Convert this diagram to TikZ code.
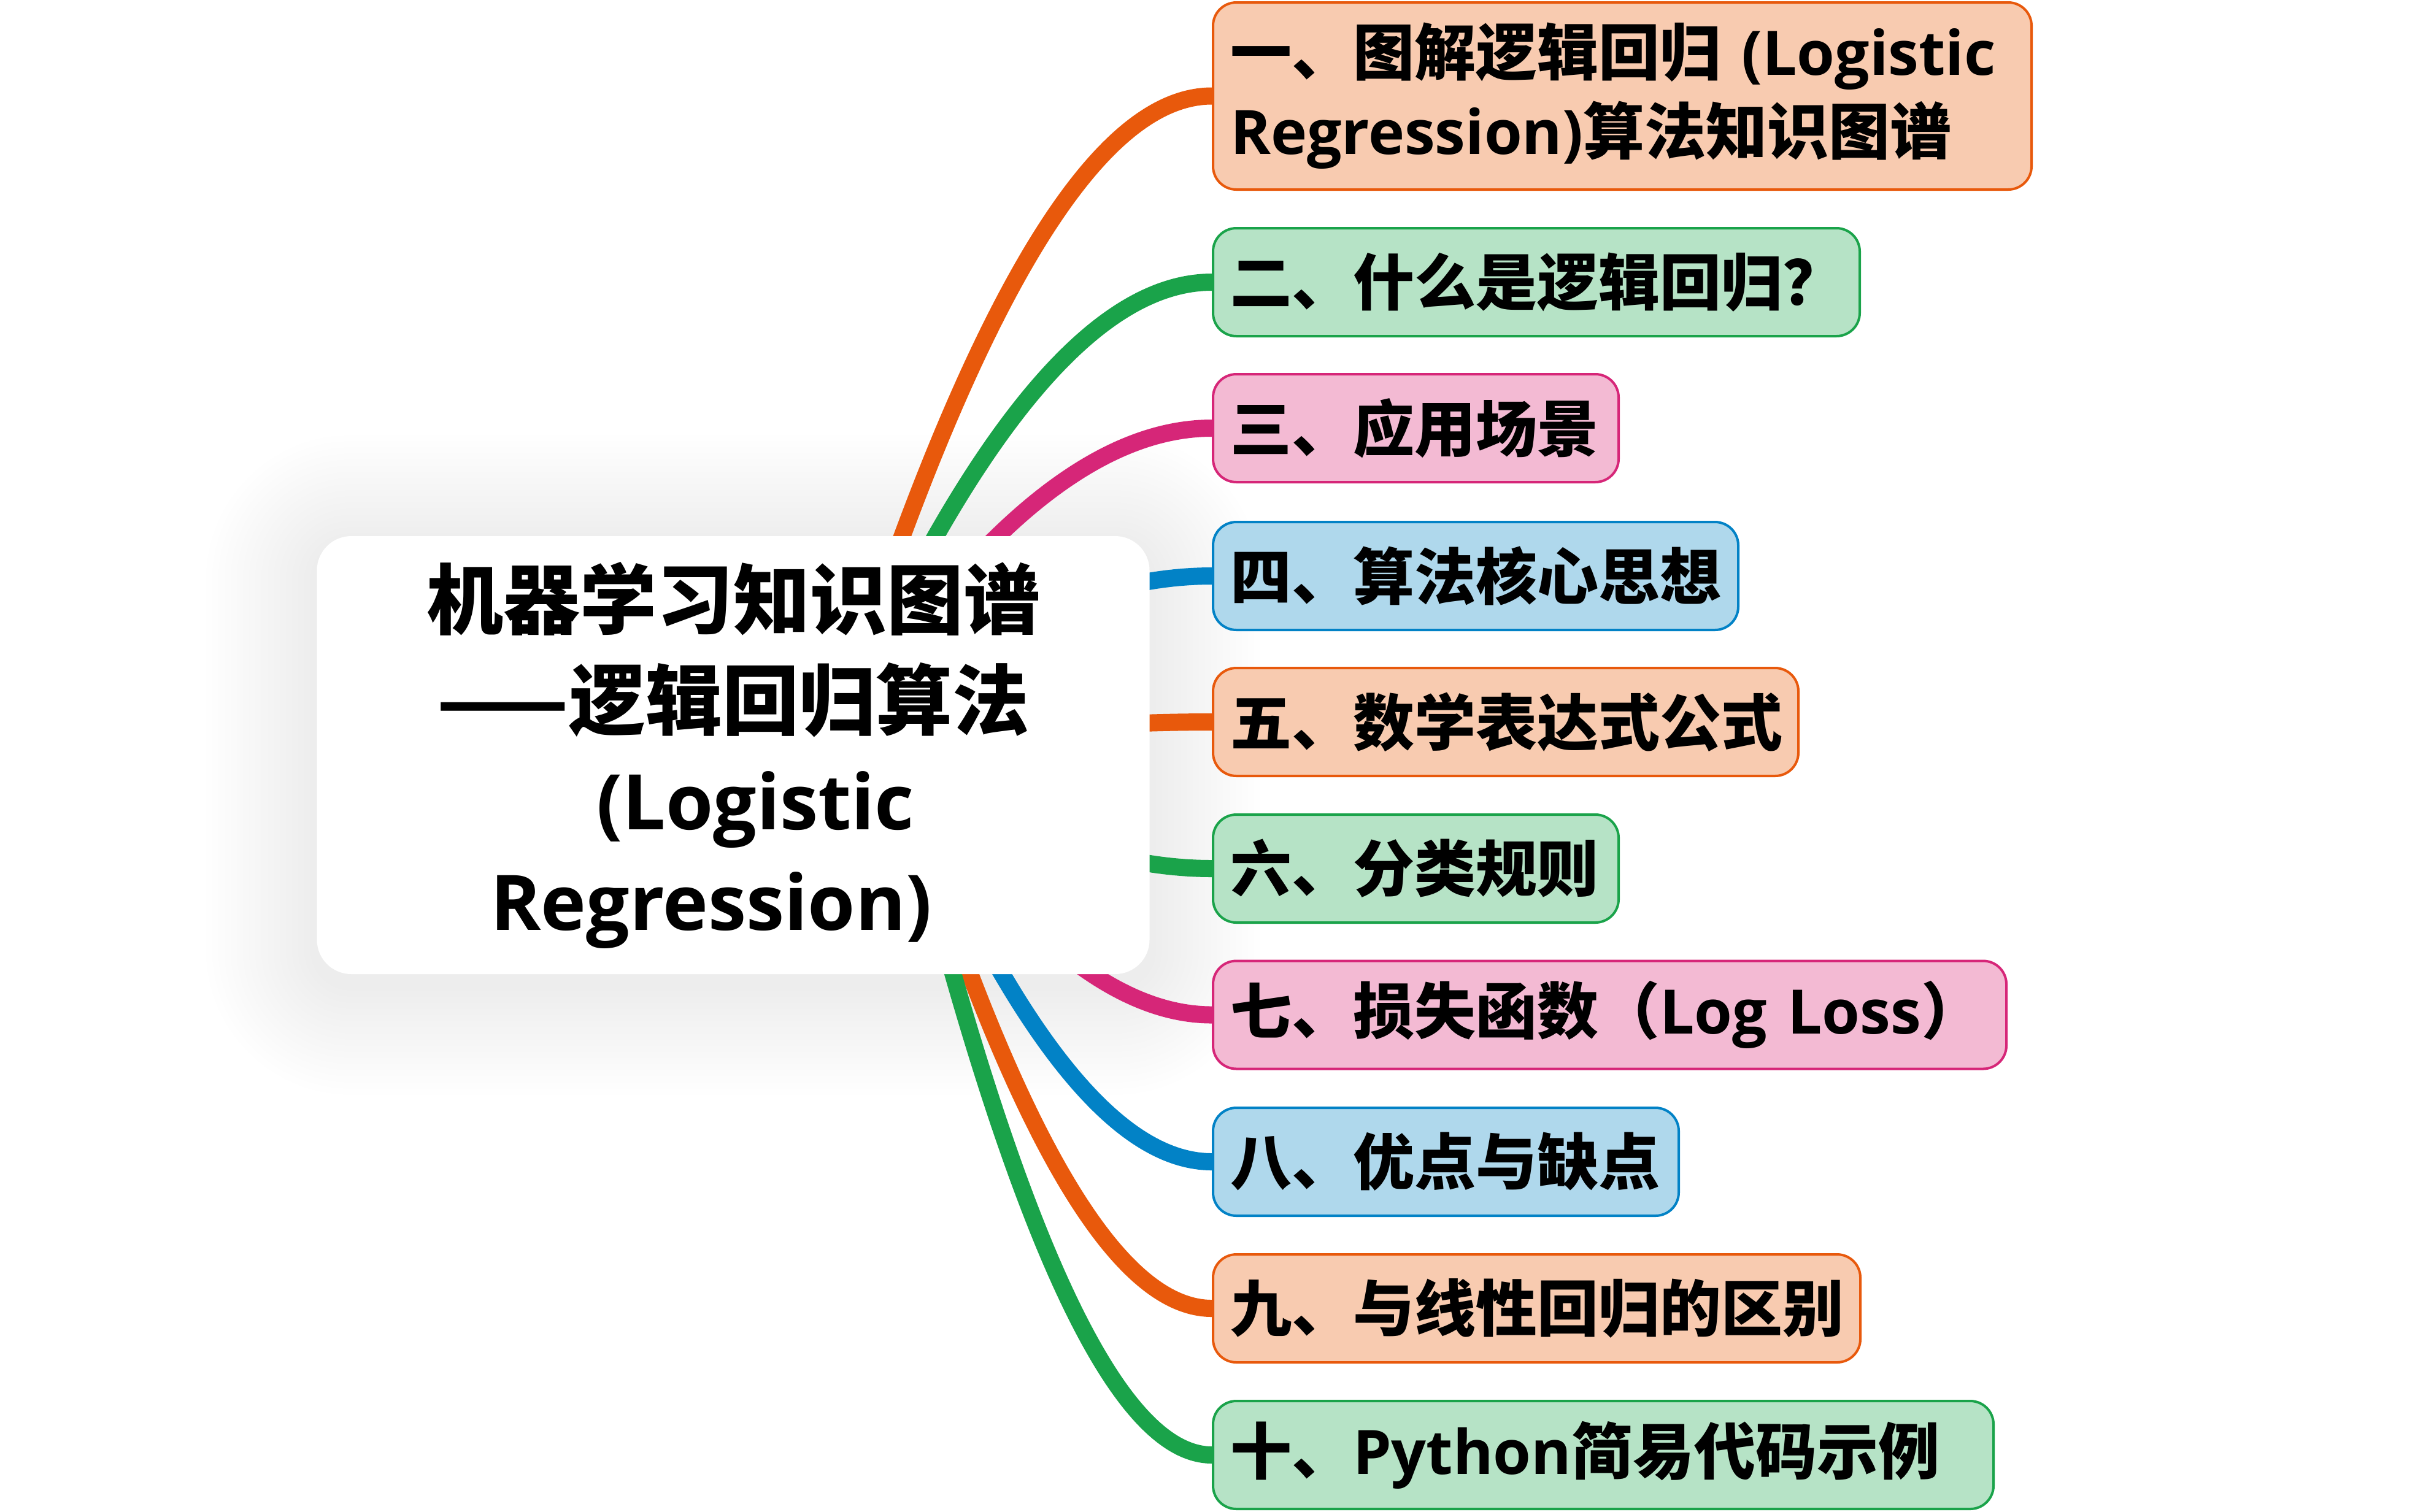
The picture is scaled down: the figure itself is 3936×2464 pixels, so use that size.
\documentclass[tikz,border=0pt]{standalone}
\usepackage{fontspec}
\newfontfamily\zh{Noto Sans CJK SC}
\newfontfamily\en{Open Sans}
\usetikzlibrary{calc}
\definecolor{cOr}{HTML}{E8590C}
\definecolor{cOrF}{HTML}{F8CBB0}
\definecolor{cGr}{HTML}{1AA34A}
\definecolor{cGrF}{HTML}{B6E3C6}
\definecolor{cPk}{HTML}{D62678}
\definecolor{cPkF}{HTML}{F3BAD3}
\definecolor{cBl}{HTML}{0282C6}
\definecolor{cBlF}{HTML}{AFD8EC}
\pgfdeclarelayer{shadowlayer}
\pgfdeclarelayer{linelayer}
\pgfsetlayers{shadowlayer,linelayer,main}
\tikzset{
  rootbox/.style={rectangle, rounded corners=14pt, fill=white, minimum width=339.25pt, minimum height=178.5pt, align=center, inner sep=0pt, font=\bfseries\fontsize{31.25pt}{41pt}\selectfont},
  topic/.style 2 args={rectangle, rounded corners=9.5pt, draw=#1, fill=#2, line width=1pt, anchor=west, inner xsep=7pt, inner ysep=0pt, minimum height=44pt, align=left, font=\bfseries\fontsize{25pt}{32.25pt}\selectfont},
  conn/.style={line width=7pt},
  softshade/.style={fill=black, opacity=0.003},
}
\newcommand\conn[4]{%
  \draw[conn, draw=#1] (#2) .. controls ($(#2)!0.6667!(#3,0 |- #4.west)$) and ($(#4.west)!0.6667!(#3,0 |- #4.west)$) .. (#4.west);}
\begin{document}
\begin{tikzpicture}[x=0.25pt, y=-0.25pt]
\useasboundingbox (0,0) rectangle (3936,2464);
\begin{pgfonlayer}{shadowlayer}
\fill[white] (0,0) rectangle (3936,2464);
\end{pgfonlayer}

\node[rootbox] (root) at (1195,1231) {{\zh 机器学习知识图谱}\\{\zh ——逻辑回归算法}\\\hspace*{18pt}{\en (Logistic}\\{\en Regression)}\hspace*{18pt}};
\coordinate (hubT) at ([xshift=38.75pt]root.center);
\coordinate (hubB) at ([xshift=66.25pt]root.center);

\node[topic={cOr}{cOrF}, text width=319.5pt, minimum height=76.25pt] (b1) at (1975,156.5) {{\zh 一、图解逻辑回归 }{\en (Logistic}\\{\en Regression)}{\zh 算法知识图谱}};
\node[topic={cGr}{cGrF}, text width=249.5pt] (b2) at (1975,460) {\zh 二、什么是逻辑回归？};
\node[topic={cPk}{cPkF}, text width=151.25pt] (b3) at (1975,698) {\zh 三、应用场景};
\node[topic={cBl}{cBlF}, text width=200pt] (b4) at (1975,939) {\zh 四、算法核心思想};
\node[topic={cOr}{cOrF}, text width=224.5pt] (b5) at (1975,1177) {\zh 五、数学表达式公式};
\node[topic={cGr}{cGrF}, text width=151.25pt] (b6) at (1975,1416) {\zh 六、分类规则};
\node[topic={cPk}{cPkF}, text width=309.25pt] (b7) at (1975,1654.5) {{\zh 七、损失函数（}{\en Log~Loss}{\zh ）}};
\node[topic={cBl}{cBlF}, text width=175.75pt] (b8) at (1975,1894) {\zh 八、优点与缺点};
\node[topic={cOr}{cOrF}, text width=249.75pt] (b9) at (1975,2133) {\zh 九、与线性回归的区别};
\node[topic={cGr}{cGrF}, text width=304pt] (b10) at (1975,2372) {{\zh 十、}{\en Python}{\zh 简易代码示例}};

\begin{pgfonlayer}{shadowlayer}
\foreach \k in {1,...,18} {
  \fill[softshade, rounded corners={14pt+\k*2.5pt}]
    ([shift={(-\k*2.5pt,-\k*2.5pt-4pt)}]root.south west) rectangle
    ([shift={(\k*2.5pt,\k*2.5pt-4pt)}]root.north east);
}
\end{pgfonlayer}

\begin{pgfonlayer}{linelayer}
\conn{cOr}{hubT}{1683}{b1}
\conn{cGr}{hubT}{1683}{b2}
\conn{cPk}{hubT}{1683}{b3}
\conn{cBl}{hubT}{1683}{b4}
\conn{cOr}{hubT}{1683}{b5}
\conn{cGr}{hubB}{1736}{b6}
\conn{cPk}{hubB}{1736}{b7}
\conn{cBl}{hubB}{1736}{b8}
\conn{cOr}{hubB}{1736}{b9}
\conn{cGr}{hubB}{1736}{b10}
\end{pgfonlayer}
\end{tikzpicture}
\end{document}
